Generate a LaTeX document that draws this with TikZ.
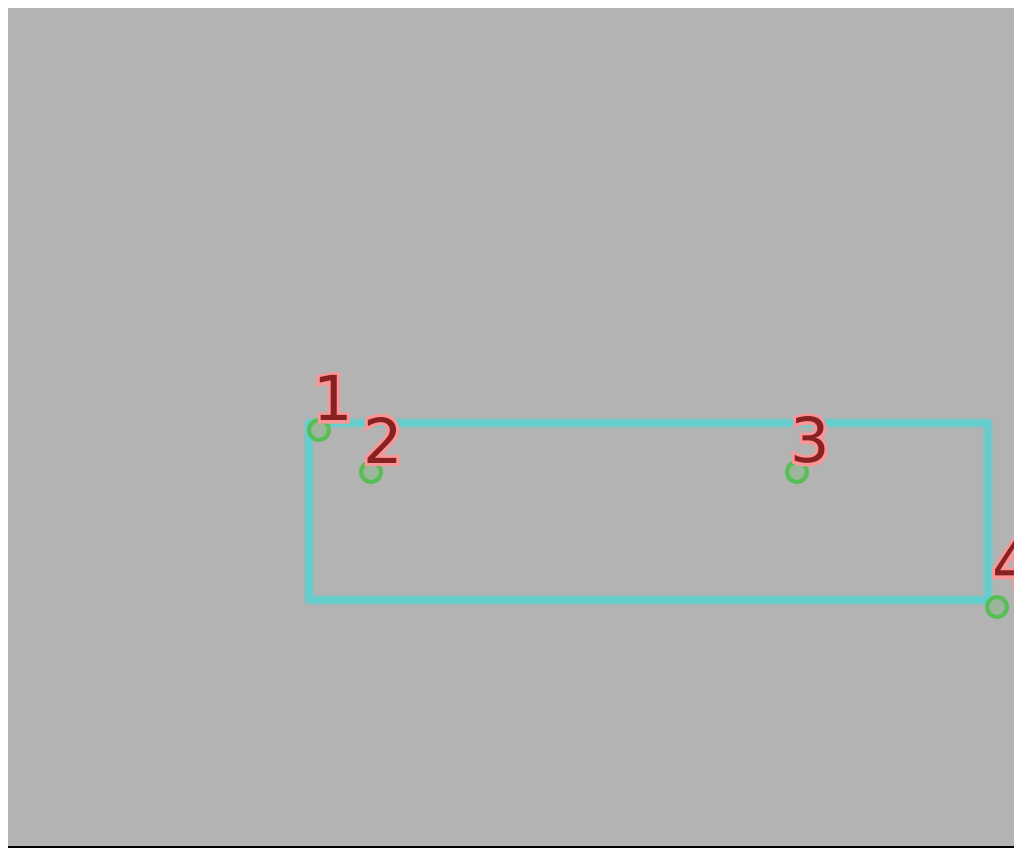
\documentclass[tikz,border=0pt]{standalone}
\usepackage{fontspec}
\setmainfont{DejaVu Sans}
\newfontfamily\halofont[FakeBold=10]{DejaVu Sans}
\definecolor{bggray}{RGB}{179,179,179}
\definecolor{edgecyan}{RGB}{100,205,205}
\definecolor{markgreen}{RGB}{85,190,85}
\definecolor{labelred}{RGB}{136,34,34}
\definecolor{halopink}{RGB}{250,150,150}

\tikzset{
  lbl/.style={text=labelred,inner sep=0pt,font=\fontsize{62}{62}\selectfont},
  halo/.style={text=halopink,inner sep=0pt,font=\halofont\fontsize{62}{62}\selectfont}
}

\begin{document}
\begin{tikzpicture}[x=1pt,y=-1pt]
  \useasboundingbox (0,0) rectangle (1014,848);
  \fill[bggray] (8,8) rectangle (1014,846);
  \draw[black,line width=2pt] (8,847) -- (1014,847);

  % outline
  \coordinate (nw) at (309,423);
  \coordinate (ne) at (988,423);
  \coordinate (se) at (988,600);
  \coordinate (sw) at (309,600);
  \draw[edgecyan!55!bggray,line width=10pt,line join=round] (nw) -- (ne) -- (se) -- (sw) -- cycle;
  \draw[edgecyan,line width=6.5pt,line join=round] (nw) -- (ne) -- (se) -- (sw) -- cycle;

  \begin{scope}[every node/.style={circle,draw=markgreen,line width=4pt,
      minimum size=20pt,inner sep=0pt,fill=markgreen!25!bggray}]
    \node (1) at (319,430) {};
    \node (2) at (371,472) {};
    \node (3) at (797,472) {};
    \node (4) at (997,607) {};
  \end{scope}

  % labels with glow
  \foreach \n/\x/\y in {1/333/398, 2/383/440, 3/810/440, 4/1012/564} {
    \node[halo] at (\x,\y) {\n};
    \node[lbl] (l\n) at (\x,\y) {\n};
  }

\end{tikzpicture}
\end{document}
